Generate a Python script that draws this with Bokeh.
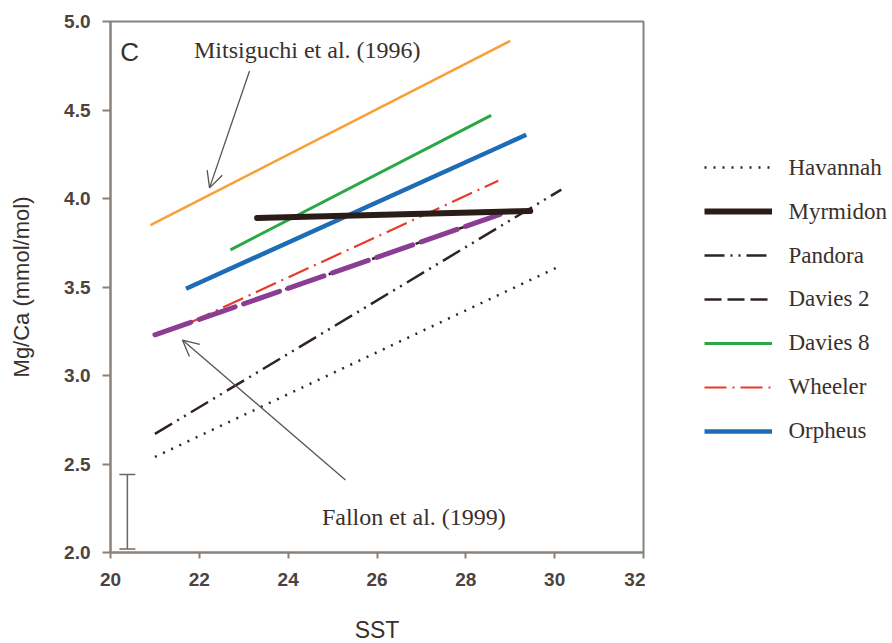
from bokeh.plotting import figure
from bokeh.layouts import row
from bokeh.models import (Legend, LegendItem, Arrow, OpenHead, Whisker, TeeHead,
                          ColumnDataSource, Label, FixedTicker, Range1d, NumeralTickFormatter)
from bokeh.embed import file_html
from bokeh.resources import INLINE

# ---- data ----
havannah_x = [21.0, 30.05]
havannah_y = [2.54, 3.61]
myrmidon_x = [23.3, 29.45]
myrmidon_y = [3.89, 3.93]
pandora_x = [21.0, 30.15]
pandora_y = [2.67, 4.05]
davies2_x = [21.0, 28.77]
davies2_y = [3.23, 3.91]
davies8_x = [22.7, 28.57]
davies8_y = [3.71, 4.47]
wheeler_x = [21.8, 28.73]
wheeler_y = [3.30, 4.10]
orpheus_x = [21.7, 29.36]
orpheus_y = [3.49, 4.36]
mitsiguchi_x = [20.9, 29.0]
mitsiguchi_y = [3.85, 4.89]
fallon_x = [21.0, 28.77]
fallon_y = [3.23, 3.91]

err_x = [20.38]
err_lower = [2.02]
err_upper = [2.44]

x_min, x_max = 20, 32
y_min, y_max = 2.0, 5.0
x_ticks = [20, 22, 24, 26, 28, 30, 32]
y_ticks = [2.0, 2.5, 3.0, 3.5, 4.0, 4.5, 5.0]

legend_names = ["Havannah", "Myrmidon", "Pandora", "Davies 2", "Davies 8", "Wheeler", "Orpheus"]

# annotation anchors (data units)
mitsi_label = ("Mitsiguchi et al. (1996)", 24.43, 4.84)
mitsi_arrow = (23.13, 4.72, 22.23, 4.06)
fallon_label = ("Fallon et al. (1999)", 26.83, 2.20)
fallon_arrow = (25.29, 2.41, 21.62, 3.20)

TEXT = "#3a302c"
AXIS = "#8a817b"
SERIF = "Liberation Serif"
SANS = "Liberation Sans"
NAN = float("nan")
DARK = "#2f2420"

PLOT_W, PLOT_H = 533, 531
LEG_W = 243
x_scale = PLOT_W / (x_max - x_min)
y_scale = PLOT_H / (y_max - y_min)

# ---------------- main plot ----------------
p = figure(frame_width=PLOT_W, frame_height=PLOT_H, output_backend="svg", toolbar_location=None,
           x_range=Range1d(x_min, x_max), y_range=Range1d(y_min, y_max),
           min_border_left=110, min_border_top=21, min_border_bottom=80, min_border_right=2)
p.grid.visible = False
p.outline_line_color = AXIS
p.outline_line_width = 2
p.background_fill_color = "white"

p.xaxis.ticker = FixedTicker(ticks=x_ticks)
p.yaxis.ticker = FixedTicker(ticks=y_ticks)
p.yaxis.formatter = NumeralTickFormatter(format="0.0")
for ax in (p.xaxis, p.yaxis):
    ax.axis_line_color = AXIS
    ax.axis_line_width = 2
    ax.major_tick_line_color = AXIS
    ax.major_tick_line_width = 2
    ax.major_tick_in = 0
    ax.minor_tick_line_color = None
    ax.major_label_text_font = SANS
    ax.major_label_text_font_size = "19px"
    ax.major_label_text_font_style = "bold"
    ax.major_label_text_color = "#4d433e"
    ax.axis_label_text_font = SANS
    ax.axis_label_text_font_style = "normal"
    ax.axis_label_text_color = TEXT
p.xaxis.major_tick_out = 6
p.yaxis.major_tick_out = 8
p.xaxis.major_label_standoff = 14
p.yaxis.major_label_standoff = 12
p.xaxis.axis_label = "SST"
p.xaxis.axis_label_text_font_size = "23px"
p.xaxis.axis_label_standoff = 28
p.yaxis.axis_label = "Mg/Ca (mmol/mol)"
p.yaxis.axis_label_text_font_size = "22px"
p.yaxis.axis_label_standoff = 27

# data lines
p.line(havannah_x, havannah_y, line_color=DARK, line_width=2.5, line_dash="2 7")
p.line(pandora_x, pandora_y, line_color=DARK, line_width=2.5, line_dash="20 6 2 6 2 6")
p.line(davies2_x, davies2_y, line_color=DARK, line_width=2.5, line_dash="17 6")
p.line(mitsiguchi_x, mitsiguchi_y, line_color="#f7a035", line_width=2.5)
p.line(davies8_x, davies8_y, line_color="#2ba845", line_width=3)
p.line(orpheus_x, orpheus_y, line_color="#1d6cb6", line_width=4.5)
p.line(wheeler_x, wheeler_y, line_color="#ea3a2c", line_width=2.2, line_dash="22 6 2 6")
p.line(fallon_x, fallon_y, line_color="#8b3d93", line_width=5, line_dash="38 9", line_cap="round")
p.line(myrmidon_x, myrmidon_y, line_color="#2a1d19", line_width=6, line_cap="round")

# error bar
err_src = ColumnDataSource(dict(base=err_x, lower=err_lower, upper=err_upper))
p.add_layout(Whisker(source=err_src, base="base", lower="lower", upper="upper", dimension="height",
                     line_color="#6f6660", line_width=1.5,
                     upper_head=TeeHead(size=16, line_color="#6f6660", line_width=1.5),
                     lower_head=TeeHead(size=16, line_color="#6f6660", line_width=1.5)))

# annotations
p.add_layout(Label(x=20.22, y=4.83, text="C", text_font=SANS, text_font_size="26px",
                   text_color=TEXT, text_baseline="middle"))
p.add_layout(Label(x=mitsi_label[1], y=mitsi_label[2], text=mitsi_label[0], text_font=SERIF,
                   text_font_size="24px", text_color=TEXT, text_align="center", text_baseline="middle"))
p.add_layout(Label(x=fallon_label[1], y=fallon_label[2], text=fallon_label[0], text_font=SERIF,
                   text_font_size="24px", text_color=TEXT, text_align="center", text_baseline="middle"))
for (xs, ys, xe, ye) in (mitsi_arrow, fallon_arrow):
    p.add_layout(Arrow(x_start=xs, y_start=ys, x_end=xe, y_end=ye, line_color="#5a524d", line_width=1.3,
                       end=OpenHead(size=16, line_color="#5a524d", line_width=1.3)))

# ---------------- legend panel (separate figure at the right) ----------------
leg_x_end = x_max + LEG_W / x_scale
q = figure(frame_width=LEG_W, frame_height=PLOT_H, output_backend="svg", toolbar_location=None,
           x_range=Range1d(x_max, leg_x_end), y_range=Range1d(y_min, y_max),
           x_axis_type=None, y_axis_type=None,
           min_border_left=0, min_border_right=0, min_border_top=21, min_border_bottom=80)
q.grid.visible = False
q.outline_line_color = None
q.background_fill_color = "white"

leg_styles = [
    dict(line_color=DARK, line_width=2.5, line_dash="2 7"),
    dict(line_color="#2a1d19", line_width=6),
    dict(line_color=DARK, line_width=2.5, line_dash="20 6 2 6 2 6"),
    dict(line_color=DARK, line_width=2.5, line_dash="17 6"),
    dict(line_color="#2ba845", line_width=3),
    dict(line_color="#ea3a2c", line_width=2.2, line_dash="22 6 2 6"),
    dict(line_color="#1d6cb6", line_width=4.5),
]
items = []
for style in leg_styles:
    r = q.line([NAN], [NAN], **style)
    items.append(LegendItem(label=" ", renderers=[r]))
legend = Legend(items=items, location=(59, 108), glyph_width=68, glyph_height=20, label_height=26,
                spacing=18, label_standoff=4, padding=0, margin=0, border_line_color=None,
                background_fill_alpha=0, label_text_font_size="23px", label_text_color=TEXT)
q.add_layout(legend, "center")

label_x = x_max + (786 - 643) / x_scale
for i, name in enumerate(legend_names):
    row_y = y_max - (146 + 43.8 * i) / y_scale
    q.add_layout(Label(x=label_x, y=row_y, text=name, text_font=SERIF, text_font_size="23px",
                       text_color=TEXT, text_baseline="middle"))

layout = row(p, q)
open("out.html", "w").write(file_html(layout, INLINE))
